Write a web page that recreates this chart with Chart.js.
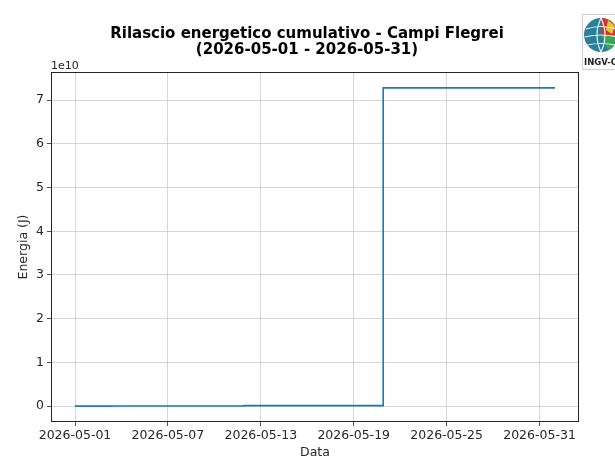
<!DOCTYPE html>
<html lang="it">
<head>
  <meta charset="UTF-8">
  <title>Rilascio energetico cumulativo - Campi Flegrei</title>
  <script src="https://cdn.jsdelivr.net/npm/chart.js"></script>
  <style>
    html, body { margin: 0; padding: 0; background: #fff; }
    .wrap { position: relative; width: 615px; height: 458px; }
    .logo { position: absolute; left: 582px; top: 14px; width: 40px; height: 56px; overflow: hidden; }
  </style>
</head>
<body>
<div class="wrap">
  <canvas id="energyChart" width="615" height="458"></canvas>
  <!-- logo INGV (approssimato) -->
  <svg class="logo" viewBox="0 0 40 56">
    <rect x="0.5" y="0.5" width="39" height="55" fill="#fff" stroke="#cfcfcf"/>
    <circle cx="19" cy="21" r="17" fill="#2a7f9a"/>
    <path d="M19 4 A17 17 0 0 1 36 21 L19 21 Z" fill="#d9342b"/>
    <path d="M36 21 A17 17 0 0 1 26 36.5 L19 21 Z" fill="#3aa655"/>
    <path d="M26 6 L33 12 L30 20 L24 16 Z" fill="#e8c534"/>
    <path d="M4 15 Q19 10 34 15 M2.5 23 Q19 19 35.5 23 M5 31 Q19 28 33 31 M19 4 Q11 21 19 38 M19 4 Q27 21 19 38" stroke="#e6f2f5" stroke-width="1.2" fill="none"/>
    <text x="2" y="51" font-family="DejaVu Sans Condensed, DejaVu Sans" font-weight="bold" font-size="9.5" fill="#222">INGV-OV</text>
  </svg>
</div>
<script>
  // dati: istanti degli eventi e energia cumulativa (J)
  var eventTimes = ['2026-05-01T00:00', '2026-05-03T10:00', '2026-05-06T15:00', '2026-05-11T22:00',
                    '2026-05-20T21:40', '2026-06-01T00:00'];
  var energyValues = [0, 1.0e7, 3.0e7, 1.0e8, 7.28e10, 7.28e10];
  var xTickLabels = ['2026-05-01', '2026-05-07', '2026-05-13', '2026-05-19', '2026-05-25', '2026-05-31'];
  var yTickLabels = [0, 1, 2, 3, 4, 5, 6, 7];
  var yExponent = 1e10;

  function toMs(s) { return Date.parse(s.length > 10 ? s + ':00Z' : s + 'T00:00:00Z'); }
  function pad(n) { return n < 10 ? '0' + n : '' + n; }
  function fmtDate(ms) {
    var d = new Date(ms);
    return d.getUTCFullYear() + '-' + pad(d.getUTCMonth() + 1) + '-' + pad(d.getUTCDate());
  }

  var points = eventTimes.map(function (t, i) { return { x: toMs(t), y: energyValues[i] }; });

  // margini del 5% come matplotlib
  var xMin = points[0].x, xMax = points[points.length - 1].x;
  var xPad = (xMax - xMin) * 0.05;
  var yMaxData = Math.max.apply(null, energyValues), yMinData = Math.min.apply(null, energyValues);
  var yPad = (yMaxData - yMinData) * 0.05;

  var FONT = 'DejaVu Sans';
  var TEXT = '#262626';
  var TICK_SIZE = 12.5;

  // titolo, etichette assi, cornice e "1e10"
  var decorations = {
    id: 'decorations',
    afterDraw: function (chart) {
      var ctx = chart.ctx, a = chart.chartArea;
      ctx.save();
      ctx.strokeStyle = '#262626';
      ctx.lineWidth = 1;
      ctx.strokeRect(a.left + 0.5, a.top + 0.5, a.right - a.left - 1, a.bottom - a.top - 1);
      ctx.fillStyle = '#000';
      ctx.textAlign = 'center';
      ctx.textBaseline = 'alphabetic';
      ctx.font = 'bold 15px ' + FONT;
      var cx = (a.left + a.right) / 2;
      ctx.fillText('Rilascio energetico cumulativo - Campi Flegrei', cx - 8, 38);
      ctx.fillText('(2026-05-01 - 2026-05-31)', cx - 8, 54);
      ctx.fillStyle = TEXT;
      ctx.font = TICK_SIZE + 'px ' + FONT;
      ctx.fillText('Data', cx, 456);
      ctx.translate(27, (a.top + a.bottom) / 2);
      ctx.rotate(-Math.PI / 2);
      ctx.fillText('Energia (J)', 0, 0);
      ctx.restore();
      ctx.save();
      ctx.fillStyle = TEXT;
      ctx.font = '11px ' + FONT;
      ctx.textAlign = 'left';
      ctx.fillText('1e' + Math.round(Math.log10(yExponent)), a.left, a.top - 3);
      ctx.restore();
    }
  };

  var ctx = document.getElementById('energyChart').getContext('2d');
  var energyChart = new Chart(ctx, {
    type: 'line',
    data: {
      datasets: [{
        data: points,
        borderColor: '#1f77b4',
        borderWidth: 1.6,
        pointRadius: 0,
        stepped: true,
        fill: false
      }]
    },
    options: {
      responsive: false,
      animation: false,
      layout: { padding: { top: 72, right: 36, bottom: 0, left: 0 } },
      plugins: { legend: { display: false }, title: { display: false }, tooltip: { enabled: false } },
      scales: {
        x: {
          type: 'linear',
          min: xMin - xPad,
          max: xMax + xPad,
          afterBuildTicks: function (axis) {
            axis.ticks = xTickLabels.map(function (s) { return { value: toMs(s) }; });
          },
          afterFit: function (axis) { axis.height = 36; },
          ticks: {
            autoSkip: false,
            maxRotation: 0,
            padding: 2,
            color: TEXT,
            font: { family: FONT, size: TICK_SIZE },
            callback: function (v) { return fmtDate(v); }
          },
          grid: { color: '#cccccc', lineWidth: 0.8, tickLength: 4, tickColor: '#262626', drawTicks: true },
          border: { display: false }
        },
        y: {
          min: yMinData - yPad,
          max: yMaxData + yPad,
          afterBuildTicks: function (axis) {
            axis.ticks = yTickLabels.map(function (v) { return { value: v * yExponent }; });
          },
          afterFit: function (axis) { axis.width = 51; },
          ticks: {
            padding: 3,
            color: TEXT,
            font: { family: FONT, size: TICK_SIZE },
            callback: function (v) { return String(Math.round(v / yExponent)); }
          },
          grid: { color: '#cccccc', lineWidth: 0.8, tickLength: 4, tickColor: '#262626', drawTicks: true },
          border: { display: false }
        }
      }
    },
    plugins: [decorations]
  });
</script>
</body>
</html>
